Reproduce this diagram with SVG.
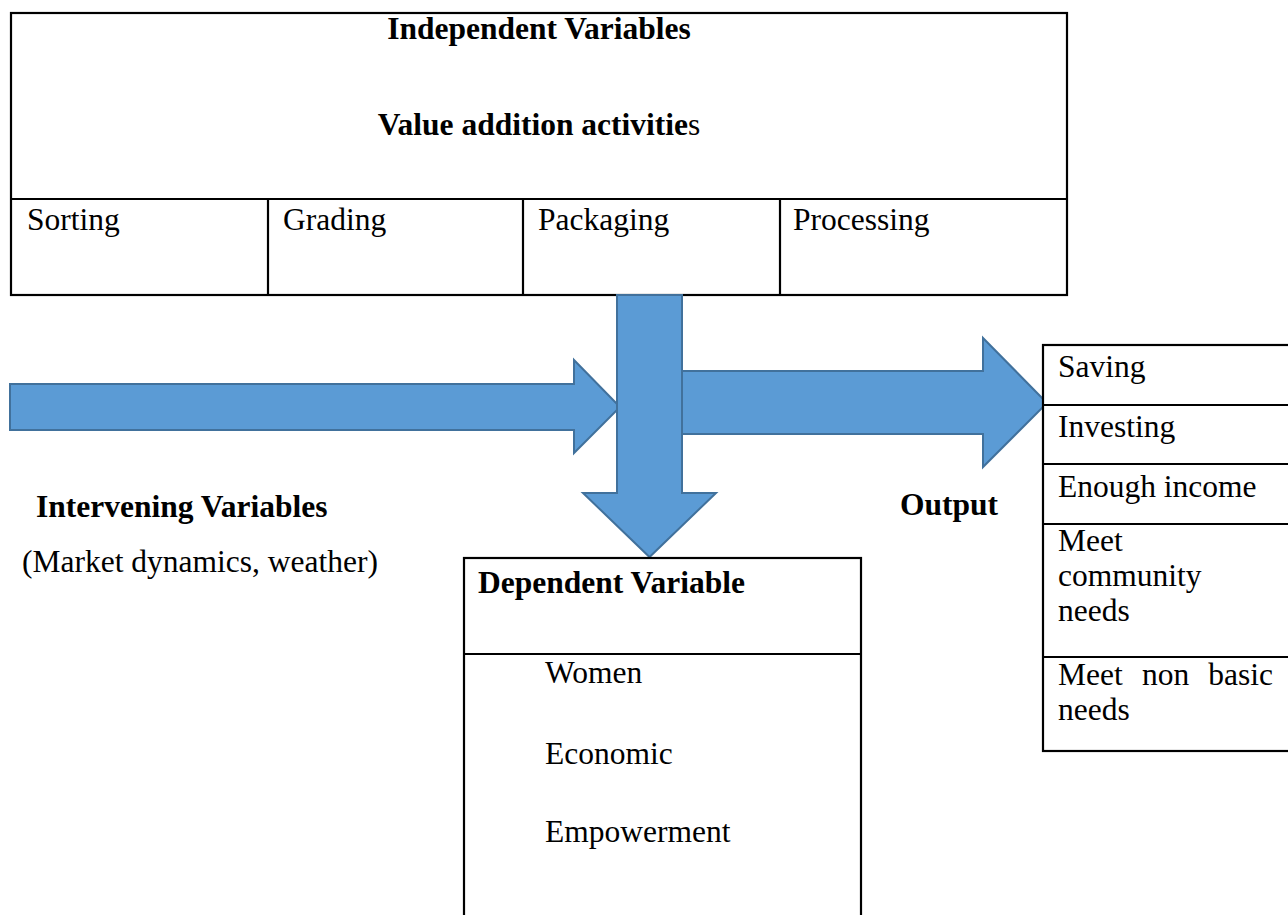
<svg xmlns="http://www.w3.org/2000/svg" width="1288" height="915" viewBox="0 0 1288 915">
<style>
text{font-family:"Liberation Serif","Times New Roman",serif;font-size:31.5px;fill:#000}
.b{font-weight:bold}
.box{fill:#fff;stroke:#000;stroke-width:2.2}
.ln{stroke:#000;stroke-width:2.2;fill:none}
.arr{fill:#5B9BD5;stroke:#41719C;stroke-width:2;stroke-linejoin:miter}
</style>
<rect width="1288" height="915" fill="#fff"/>
<g id="independent">
<rect class="box" x="11" y="13" width="1056" height="282"/>
<line class="ln" x1="11" y1="199" x2="1067" y2="199"/>
<line class="ln" x1="268" y1="199" x2="268" y2="295"/>
<line class="ln" x1="523" y1="199" x2="523" y2="295"/>
<line class="ln" x1="780" y1="199" x2="780" y2="295"/>
<text class="b" x="539" y="39" text-anchor="middle">Independent Variables</text>
<text class="b" x="539" y="135" text-anchor="middle">Value addition activitie<tspan font-weight="normal">s</tspan></text>
<text x="27" y="230">Sorting</text>
<text x="283" y="230">Grading</text>
<text x="538" y="230">Packaging</text>
<text x="793" y="230">Processing</text>
</g>
<g id="connectors">
<polygon class="arr" points="10,384 574,384 574,360 620,407 574,453 574,430 10,430"/>
<polygon class="arr" points="617,295 682,295 682,493 716,493 649.5,557 583,493 617,493"/>
<polygon class="arr" points="682,371 983,371 983,338 1047,403 983,467 983,434 682,434"/>
</g>
<g id="intervening">
<text class="b" x="36" y="517">Intervening Variables</text>
<text x="22" y="572">(Market dynamics, weather)</text>
</g>
<g id="output-label">
<text class="b" x="900" y="515">Output</text>
</g>
<g id="dependent">
<rect class="box" x="464" y="558" width="397" height="380"/>
<line class="ln" x1="464" y1="654" x2="861" y2="654"/>
<text class="b" x="478" y="593">Dependent Variable</text>
<text x="545" y="683">Women</text>
<text x="545" y="764">Economic</text>
<text x="545" y="842">Empowerment</text>
</g>
<g id="output">
<rect class="box" x="1043" y="345" width="260" height="406"/>
<line class="ln" x1="1043" y1="405" x2="1303" y2="405"/>
<line class="ln" x1="1043" y1="464" x2="1303" y2="464"/>
<line class="ln" x1="1043" y1="524" x2="1303" y2="524"/>
<line class="ln" x1="1043" y1="657" x2="1303" y2="657"/>
<text x="1058" y="377">Saving</text>
<text x="1058" y="437">Investing</text>
<text x="1058" y="497">Enough income</text>
<text x="1058" y="551">Meet</text>
<text x="1058" y="586">community</text>
<text x="1058" y="621">needs</text>
<text x="1058" y="685">Meet</text>
<text x="1142" y="685">non</text>
<text x="1273" y="685" text-anchor="end">basic</text>
<text x="1058" y="720">needs</text>
</g>
</svg>
